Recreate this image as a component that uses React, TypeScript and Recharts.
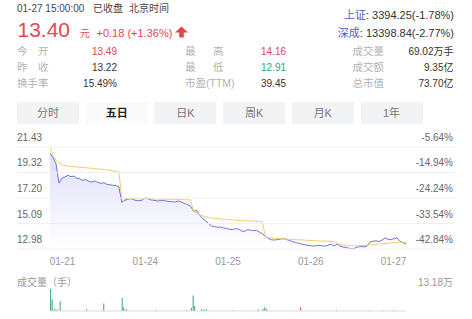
import React from 'react';
import {
  ComposedChart, Area, Line, XAxis, YAxis,
  BarChart, Bar, Cell, ReferenceLine,
} from 'recharts';

const FONT = '"Liberation Sans", Arial, "Noto Sans CJK SC", sans-serif';
const RED = '#e2474c';
const GREEN = '#2fa57c';
const BLUE = '#6b73d4';
const GOLD = '#f1cf68';
const LABEL = '#b3b3b3';
const DARK = '#333';

const days = ['01-21', '01-24', '01-25', '01-26', '01-27'];
const priceTicks = [21.43, 19.32, 17.2, 15.09, 12.98];
const pctTicks = ['-5.64%', '-14.94%', '-24.24%', '-33.54%', '-42.84%'];
const tabs = ['分时', '五日', '日K', '周K', '月K', '1年'];

// last price, sampled every 10 minutes (24 per day)
const price0121 = [20.91, 20.55, 20.05, 18.45, 18.85, 18.95, 19.08, 18.98, 19.02, 18.84, 18.8, 18.66,
  18.74, 18.58, 18.52, 18.62, 18.5, 18.42, 18.47, 18.34, 18.3, 18.26, 18.22, 18.16];
const price0124 = [16.85, 17.02, 17.1, 17.16, 17.05, 17.0, 16.98, 17.06, 17.24, 17.1, 17.04, 17.0,
  16.96, 16.98, 17.0, 16.94, 16.92, 16.9, 16.88, 16.96, 16.86, 16.76, 16.66, 16.52];
const price0125 = [16.1, 16.18, 15.8, 15.5, 15.3, 15.1, 14.88, 14.85, 14.78, 14.8, 14.72, 14.68,
  14.62, 14.58, 14.66, 14.64, 14.48, 14.44, 14.58, 14.55, 14.5, 14.52, 14.38, 14.24];
const price0126 = [14.05, 13.85, 13.75, 13.72, 13.76, 13.8, 13.84, 13.76, 13.7, 13.6, 13.52, 13.46,
  13.4, 13.34, 13.3, 13.26, 13.22, 13.26, 13.28, 13.24, 13.22, 13.3, 13.38, 13.22];
const price0127 = [13.4, 13.22, 13.14, 13.1, 13.04, 12.99, 13.06, 13.16, 13.18, 13.16, 13.22, 13.56,
  13.62, 13.66, 13.6, 13.72, 13.9, 13.78, 13.74, 13.86, 13.9, 13.62, 13.5, 13.4];

// day average price, same sampling
const avg0121 = [21.4, 20.75, 20.35, 20.1, 19.95, 19.88, 19.85, 19.82, 19.8, 19.77, 19.75, 19.73,
  19.71, 19.69, 19.66, 19.63, 19.61, 19.59, 19.56, 19.53, 19.5, 19.46, 19.42, 19.38];
const avg0124 = [17.2, 17.18, 17.17, 17.16, 17.16, 17.15, 17.15, 17.14, 17.14, 17.13, 17.13, 17.12,
  17.12, 17.11, 17.11, 17.1, 17.1, 17.09, 17.08, 17.08, 17.07, 17.06, 17.05, 17.04];
const avg0125 = [16.08, 15.98, 15.84, 15.74, 15.66, 15.6, 15.56, 15.53, 15.5, 15.47, 15.45, 15.43,
  15.41, 15.39, 15.37, 15.35, 15.33, 15.32, 15.31, 15.3, 15.29, 15.27, 15.26, 15.24];
const avg0126 = [13.96, 13.93, 13.9, 13.88, 13.86, 13.84, 13.82, 13.8, 13.78, 13.77, 13.75, 13.74,
  13.73, 13.72, 13.7, 13.69, 13.68, 13.66, 13.65, 13.64, 13.63, 13.62, 13.6, 13.59];
const avg0127 = [13.45, 13.35, 13.3, 13.27, 13.25, 13.24, 13.24, 13.25, 13.26, 13.28, 13.3, 13.33,
  13.36, 13.38, 13.4, 13.42, 13.44, 13.46, 13.48, 13.5, 13.52, 13.53, 13.54, 13.55];

// volume spikes (minute of the 5 days, lots, up?)
const volMinute = [3, 8, 17, 25, 35, 124, 182, 244, 249, 258, 359, 460, 477, 483, 488, 511, 519, 528,
  617, 702, 718, 724, 730, 845, 966, 1078, 1123, 1162];
const volLots = [131800, 68800, 13500, 10000, 58800, 10000, 45300, 78300, 21800, 10000, 6000, 6000,
  19400, 92400, 29400, 10000, 10000, 10000, 4000, 10000, 13500, 21800, 10000, 21800, 6000, 4000, 4000, 6000];
const volUp = [false, false, false, false, false, false, false, false, false, true, false, false,
  false, false, false, false, false, false, false, false, false, false, true, true, false, true, false, true];
const volMax = 131800;
const volMaxLabel = '13.18万';

const priceDays = [price0121, price0124, price0125, price0126, price0127];
const avgDays = [avg0121, avg0124, avg0125, avg0126, avg0127];
const perDay = price0121.length;
const series = priceDays.flatMap((day, d) =>
  day.map((p, k) => ({ i: d * perDay + k, price: p, avg: avgDays[d][k] })));
const lastIdx = series.length - 1;
const xTicks = days.map((_, k) => (k * lastIdx) / (days.length - 1));
const volData = volMinute.map((m, j) => ({ m, v: volLots[j], up: volUp[j] }));

const PriceTick = (props: any) => {
  const { y, payload, index } = props;
  return (
    <g>
      <line x1={17} x2={455} y1={y} y2={y} stroke="#f0f0f0" />
      <text x={17} y={y - 6} fontSize={10} fill="#666" fontFamily={FONT}>
        {Number(payload.value).toFixed(2)}
      </text>
      <text x={453} y={y - 6} fontSize={10} fill="#666" textAnchor="end" fontFamily={FONT}>
        {pctTicks[index]}
      </text>
    </g>
  );
};

const DayTick = (props: any) => {
  const { x, y, index } = props;
  const w = 25;
  const dx = (w / 2) * (1 - (2 * index) / (days.length - 1));
  return (
    <text x={x + dx} y={y + 14} fontSize={10} fill="#999" textAnchor="middle" fontFamily={FONT}>
      {days[index]}
    </text>
  );
};

function Header() {
  const t = (x: number, y: number, s: string, fill = DARK, size = 10, anchor = 'start') => (
    <text x={x} y={y} fill={fill} fontSize={size} textAnchor={anchor as any}>{s}</text>
  );
  return (
    <svg width={472} height={100} style={{ position: 'absolute', left: 0, top: 0 }} fontFamily={FONT}>
      {t(17, 11.5, '01-27 15:00:00', '#444')}
      {t(93, 11.5, '已收盘', '#444')}
      {t(129, 11.5, '北京时间', '#444')}
      {t(17.5, 36.7, '13.40', RED, 21)}
      {t(80, 36.5, '元', RED)}
      {t(96.5, 36.6, '+0.18 (+1.36%)', RED, 11)}
      <polygon points="181.5,26.5 175,32.6 179.2,32.6 179.2,37.4 183.8,37.4 183.8,32.6 188,32.6" fill={RED} />
      <text x={454} y={18.9} fontSize={11} textAnchor="end" fill={DARK}>
        <tspan fill="#4f5ec4">上证</tspan>: 3394.25(-1.78%)
      </text>
      <text x={454} y={36.6} fontSize={11} textAnchor="end" fill={DARK}>
        <tspan fill="#4f5ec4">深成</tspan>: 13398.84(-2.77%)
      </text>

      {t(17, 54.6, '今', LABEL, 10.5)}{t(38, 54.6, '开', LABEL, 10.5)}
      {t(17, 71.3, '昨', LABEL, 10.5)}{t(38, 71.3, '收', LABEL, 10.5)}
      {t(17, 87, '换手率', LABEL, 10.5)}
      {t(117, 54.6, '13.49', RED, 10, 'end')}
      {t(117, 71.3, '13.22', DARK, 10, 'end')}
      {t(117, 87, '15.49%', DARK, 10, 'end')}

      {t(185, 54.6, '最', LABEL, 10.5)}{t(213, 54.6, '高', LABEL, 10.5)}
      {t(185, 71.3, '最', LABEL, 10.5)}{t(213, 71.3, '低', LABEL, 10.5)}
      {t(185, 87, '市盈(TTM)', LABEL, 10.5)}
      {t(261, 54.6, '14.16', RED)}
      {t(261, 71.3, '12.91', GREEN)}
      {t(261, 87, '39.45', DARK)}

      {t(352.5, 54.6, '成交量', LABEL, 10.5)}
      {t(352.5, 71.3, '成交额', LABEL, 10.5)}
      {t(352.5, 87, '总市值', LABEL, 10.5)}
      {t(453.5, 54.6, '69.02万手', DARK, 10, 'end')}
      {t(453.5, 71.3, '9.35亿', DARK, 10, 'end')}
      {t(453.5, 87, '73.70亿', DARK, 10, 'end')}
    </svg>
  );
}

export default function App() {
  return (
    <div style={{ position: 'absolute', left: 0, top: 0, width: 472, height: 319, background: '#fff', overflow: 'hidden', fontFamily: FONT }}>
      <Header />

      {tabs.map((name, k) => (
        <div key={name} style={{
          position: 'absolute', top: 102, left: 17 + k * 68.7, width: 62, height: 22,
          lineHeight: '22px', textAlign: 'center', fontSize: 11,
          background: k === 1 ? '#fafafa' : '#f2f3f5',
          color: k === 1 ? '#222' : '#777', fontWeight: k === 1 ? 700 : 400,
        }}>{name}</div>
      ))}

      <div style={{ position: 'absolute', left: 0, top: 130 }}>
        <ComposedChart width={472} height={140} data={series}
          margin={{ top: 17, right: 66, bottom: 0, left: 17 }}>
          <defs>
            <linearGradient id="priceFill" x1="0" y1="0" x2="0" y2="1">
              <stop offset="0%" stopColor="#dadefa" stopOpacity={0.95} />
              <stop offset="100%" stopColor="#ffffff" stopOpacity={0.9} />
            </linearGradient>
          </defs>
          <XAxis dataKey="i" type="number" domain={[0, lastIdx]} ticks={xTicks} interval={0}
            tick={<DayTick />} tickLine={false} axisLine={false} tickSize={0} height={21} />
          <YAxis type="number" domain={[priceTicks[priceTicks.length - 1], priceTicks[0]]}
            ticks={priceTicks} interval={0} allowDataOverflow width={33}
            tick={<PriceTick />} tickLine={false} axisLine={false} />
          <Area type="linear" dataKey="price" stroke={BLUE} strokeWidth={1} fill="url(#priceFill)"
            fillOpacity={1} dot={false} activeDot={false} isAnimationActive={false} />
          <Line type="linear" dataKey="avg" stroke={GOLD} strokeWidth={1} dot={false}
            activeDot={false} isAnimationActive={false} />
        </ComposedChart>
      </div>

      <div style={{ position: 'absolute', left: 17, top: 274, fontSize: 10, color: '#999' }}>成交量（手）</div>
      <div style={{ position: 'absolute', right: 19, top: 274, fontSize: 10, color: '#999' }}>{volMaxLabel}</div>

      <div style={{ position: 'absolute', left: 0, top: 287 }}>
        <BarChart width={472} height={26} data={volData} margin={{ top: 2, right: 66, bottom: 2, left: 50 }}>
          <XAxis dataKey="m" type="number" domain={[0, 1199]} hide />
          <YAxis type="number" domain={[0, volMax]} hide />
          <ReferenceLine y={0} stroke="#dcdcdc" />
          <Bar dataKey="v" barSize={1} isAnimationActive={false}>
            {volData.map((d, j) => <Cell key={j} fill={d.up ? RED : GREEN} />)}
          </Bar>
        </BarChart>
      </div>
    </div>
  );
}
